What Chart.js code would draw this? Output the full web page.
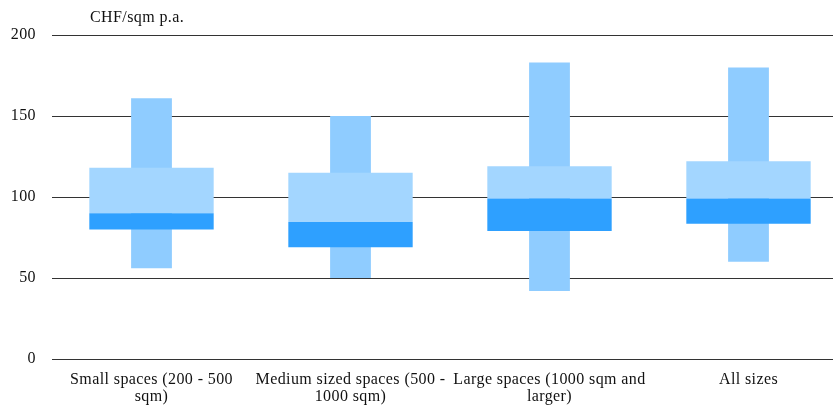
<!DOCTYPE html>
<html>
<head>
<meta charset="utf-8">
<script src="https://cdn.jsdelivr.net/npm/chart.js@4"></script>
<style>
  html, body { margin: 0; padding: 0; background: #fff; overflow: hidden; }
  #wrap { width: 848px; height: 405px; }
</style>
</head>
<body>
<div id="wrap"><canvas id="chart"></canvas></div>
<script>
// categories
const categories = [
  ["Small spaces (200 - 500", "sqm)"],
  ["Medium sized spaces (500 -", "1000 sqm)"],
  ["Large spaces (1000 sqm and", "larger)"],
  ["All sizes"],
];

// rent ranges, CHF/sqm p.a.
const minValues = [56, 50, 42, 60];
const q1Values = [80, 69, 79, 83.5];
const medianValues = [90, 84.5, 99, 99];
const q3Values = [118, 115, 119, 122];
const maxValues = [161, 150, 183, 180];

const yTicks = [0, 50, 100, 150, 200];

const FONT = "'Liberation Serif', 'Times New Roman', 'DejaVu Serif', serif";

const pair = (a, b) => a.map((v, i) => [v, b[i]]);

// the source text is set a little loose
const spacing = {
  id: "spacing",
  beforeLayout(chart) {
    chart.ctx.letterSpacing = "0.4px";
  },
  beforeDraw(chart) {
    chart.ctx.letterSpacing = "0.4px";
  },
};

// unit label above the axis
const unitLabel = {
  id: "unitLabel",
  afterDraw(chart) {
    const { ctx, chartArea } = chart;
    ctx.save();
    ctx.font = "16px " + FONT;
    ctx.fillStyle = "#111";
    ctx.textBaseline = "middle";
    ctx.fillText("CHF/sqm p.a.", chartArea.left + 38, chartArea.top - 17);
    ctx.restore();
  },
};

new Chart(document.getElementById("chart"), {
  type: "bar",
  data: {
    labels: categories,
    datasets: [
      {
        label: "Median - Q3",
        data: pair(medianValues, q3Values),
        backgroundColor: "rgb(163, 214, 255)",
        barPercentage: 0.625,
        order: 2,
      },
      {
        label: "Q1 - Median",
        data: pair(q1Values, medianValues),
        backgroundColor: "rgb(46, 160, 255)",
        barPercentage: 0.625,
        order: 1,
      },
      {
        label: "Min - Max",
        data: pair(minValues, maxValues),
        backgroundColor: "rgb(143, 204, 255)",
        barPercentage: 0.205,
        order: 3,
      },
    ],
  },
  options: {
    responsive: true,
    maintainAspectRatio: false,
    animation: false,
    datasets: {
      bar: { grouped: false, categoryPercentage: 1 },
    },
    layout: { padding: { top: 35, left: 0, right: 0, bottom: 0 } },
    plugins: {
      legend: { display: false },
      tooltip: { enabled: false },
    },
    scales: {
      x: {
        grid: { display: false, drawTicks: false },
        border: { display: false },
        ticks: {
          color: "#111",
          font: { family: FONT, size: 16, lineHeight: 1.08 },
          padding: 12,
          maxRotation: 0,
          autoSkip: false,
        },
        afterFit(scale) {
          scale.height = 46;
        },
      },
      y: {
        min: 0,
        max: 200,
        afterBuildTicks(scale) {
          scale.ticks = yTicks.map((v) => ({ value: v }));
        },
        grid: { color: "#333", lineWidth: 1, drawTicks: false },
        border: { display: false },
        ticks: {
          color: "#111",
          font: { family: FONT, size: 16 },
          padding: 16,
        },
        afterFit(scale) {
          scale.width = 52;
        },
      },
    },
  },
  plugins: [spacing, unitLabel],
});
</script>
</body>
</html>
